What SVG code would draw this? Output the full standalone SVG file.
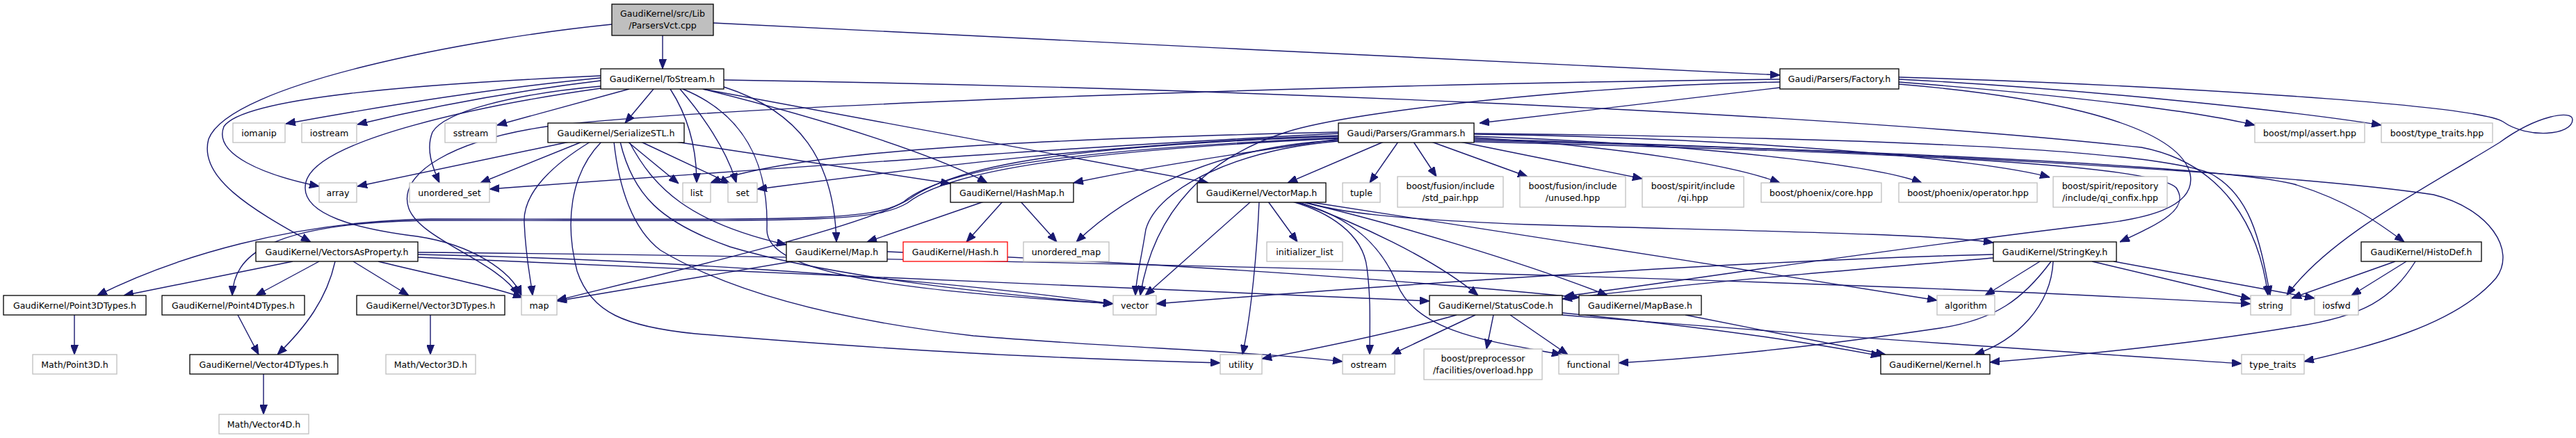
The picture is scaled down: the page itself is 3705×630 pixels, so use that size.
<svg xmlns="http://www.w3.org/2000/svg" width="3705" height="630" viewBox="0 0 3705 630">
<defs>
<style>
.n rect{fill:#fff;stroke:#000;stroke-width:1.3}
.g rect{fill:#fff;stroke:#bfbfbf;stroke-width:1.3}
.r rect{fill:#fff;stroke:#ff0000;stroke-width:1.3}
#root rect{fill:#bfbfbf;stroke:#000;stroke-width:1.3}
text{font-family:'DejaVu Sans','Liberation Sans',sans-serif;font-size:12.6px;text-anchor:middle;fill:#000}
.e path{fill:none;stroke:#191970;stroke-width:1.4;marker-end:url(#a)}
</style>
<marker id="a" markerUnits="userSpaceOnUse" markerWidth="14" markerHeight="11" refX="14" refY="5.5" orient="auto" viewBox="0 0 14 11"><path d="M0,0 L14,5.5 L0,11 z" fill="#191970" stroke="#191970" stroke-width="1"/></marker>
</defs>
<rect width="3705" height="630" fill="#fff"/>
<g id="connectors" class="e">
<path d="M953,51 L953,99"/>
<path d="M1026,33 C1500,55 2100,88 2560,108"/>
<path d="M880,35 C680,55 330,120 300,200 C285,255 360,300 447,348"/>
<path d="M864,112 C700,128 520,158 411,178"/>
<path d="M864,116 C740,131 620,153 514,179"/>
<path d="M864,109 C600,121 350,140 322,182 C306,222 380,252 459,268"/>
<path d="M905,128 L715,180"/>
<path d="M940,128 L899,177"/>
<path d="M864,124 C740,135 640,160 622,190 C612,215 622,240 632,263"/>
<path d="M964,128 C988,165 1002,210 1002,263"/>
<path d="M978,128 C1010,165 1045,215 1059,263"/>
<path d="M982,128 C1085,170 1105,255 1103,330 C1102,395 1300,418 1601,437"/>
<path d="M1011,128 L1738,263"/>
<path d="M1011,128 C1200,175 1350,225 1420,263"/>
<path d="M1041,125 C1150,160 1200,230 1203,348"/>
<path d="M864,127 C700,150 455,200 440,262 C428,310 520,330 600,340 C680,352 735,390 750,425"/>
<path d="M1041,115 C1700,125 2600,160 3080,212 C3200,235 3250,330 3262,425"/>
<path d="M2560,126 L2128,177"/>
<path d="M2731,118 C2950,135 3150,158 3243,180"/>
<path d="M2731,114 C3000,128 3300,160 3425,180"/>
<path d="M2731,111 C3100,122 3560,150 3600,175 C3635,200 3700,195 3700,172 C3700,158 3650,165 3595,205 C3490,270 3350,340 3289,425"/>
<path d="M2560,114 C2000,120 1100,148 800,180 C650,200 570,250 588,300 C605,345 715,375 746,425"/>
<path d="M2560,118 C2300,122 1950,158 1850,190 C1740,225 1660,300 1640,425"/>
<path d="M2731,121 C2900,135 3130,170 3150,250 C3160,300 3080,315 3020,322 C2700,360 2450,400 2250,426"/>
<path d="M1990,204 L1852,263"/>
<path d="M2011,204 L1970,263"/>
<path d="M2033,204 L2066,254"/>
<path d="M2059,204 L2197,254"/>
<path d="M2100,204 L2362,257"/>
<path d="M2120,198 C2350,212 2500,240 2560,263"/>
<path d="M2120,196 C2450,208 2700,238 2764,263"/>
<path d="M2120,193 C2500,198 2850,228 2948,255"/>
<path d="M1925,195 C1600,205 1300,245 1089,272"/>
<path d="M1925,190 C1500,200 1150,215 1022,263"/>
<path d="M1925,192 C1600,208 1000,250 704,272"/>
<path d="M1925,200 C1800,218 1650,240 1544,263"/>
<path d="M1925,196 C1550,210 1380,235 1310,285 C1250,325 950,395 801,432"/>
<path d="M1925,198 C1550,215 1360,240 1300,290 C1250,320 1150,315 620,315 C420,318 250,370 140,425"/>
<path d="M1925,199 C1550,217 1365,245 1305,292 C1255,322 1150,317 620,317 C380,320 336,370 334,425"/>
<path d="M1925,202 C1780,208 1640,260 1548,348"/>
<path d="M1925,203 C1780,215 1665,270 1648,330 C1640,380 1634,400 1633,425"/>
<path d="M2120,192 C2700,198 3100,215 3180,250 C3235,280 3250,340 3265,425"/>
<path d="M2120,200 C2700,215 3300,250 3500,280 C3580,300 3620,360 3590,400 C3530,470 3400,500 3314,520"/>
<path d="M2120,202 C2700,215 3200,240 3300,265 C3380,290 3420,320 3458,348"/>
<path d="M2120,204 C2800,220 3100,240 3130,270 C3150,300 3110,320 3049,348"/>
<path d="M1799,290 L1647,425"/>
<path d="M1811,290 C1808,360 1800,450 1787,510"/>
<path d="M1824,290 L1866,348"/>
<path d="M1859,290 C1910,305 1960,335 1966,385 C1972,430 1970,470 1970,510"/>
<path d="M1862,290 C1950,312 1990,360 2010,410 C2040,480 2150,492 2246,510"/>
<path d="M1866,290 C1950,320 2060,370 2126,425"/>
<path d="M1870,290 C2000,320 2200,380 2312,425"/>
<path d="M1880,290 C2100,325 2500,385 2786,432"/>
<path d="M1876,290 C1920,305 2000,315 2200,323 C2500,332 2780,336 2867,349"/>
<path d="M1415,290 L1247,348"/>
<path d="M1442,290 L1390,348"/>
<path d="M1468,290 L1520,348"/>
<path d="M819,204 L514,268"/>
<path d="M837,204 L691,263"/>
<path d="M849,204 C790,240 752,280 754,320 C756,370 763,400 766,425"/>
<path d="M865,204 C820,250 812,320 830,390 C850,450 900,470 1000,480 C1300,505 1500,515 1755,522"/>
<path d="M883,204 C890,270 910,330 950,360 C1050,420 1200,460 1400,483 C1600,500 1800,505 1931,520"/>
<path d="M892,204 C910,280 950,320 1050,355 C1200,400 1450,425 1601,437"/>
<path d="M905,204 C940,270 990,320 1131,352"/>
<path d="M903,204 L976,264"/>
<path d="M922,204 L1050,264"/>
<path d="M972,204 L1367,264"/>
<path d="M421,376 L178,425"/>
<path d="M459,376 L368,425"/>
<path d="M482,376 C470,430 440,470 399,510"/>
<path d="M508,376 L588,425"/>
<path d="M544,376 C620,395 700,410 752,428"/>
<path d="M601,366 C900,372 1300,395 1601,437"/>
<path d="M601,370 C1000,385 1600,415 2056,433"/>
<path d="M601,363 C1200,368 2500,395 3237,437"/>
<path d="M1140,376 L801,433"/>
<path d="M1276,362 C1600,375 2000,400 2272,428"/>
<path d="M107,453 L107,510"/>
<path d="M342,453 L372,510"/>
<path d="M619,453 L619,510"/>
<path d="M379,538 L379,596"/>
<path d="M2247,450 C2450,470 2600,492 2705,512"/>
<path d="M2247,453 C2600,482 3000,508 3224,523"/>
<path d="M2095,453 C2000,480 1900,500 1815,516"/>
<path d="M2122,453 L2001,510"/>
<path d="M2148,453 L2138,502"/>
<path d="M2172,453 L2255,510"/>
<path d="M2424,453 L2712,510"/>
<path d="M2934,376 L2855,425"/>
<path d="M2950,376 C2910,430 2870,460 2790,472 C2600,500 2450,515 2328,522"/>
<path d="M2953,376 C2950,440 2900,490 2840,510"/>
<path d="M2867,366 C2500,375 2000,410 1663,437"/>
<path d="M2867,371 C2700,385 2450,405 2247,430"/>
<path d="M3009,376 L3237,430"/>
<path d="M3040,376 L3329,429"/>
<path d="M3445,376 L3296,429"/>
<path d="M3461,376 L3382,425"/>
<path d="M3474,376 C3440,430 3400,455 3300,470 C3150,495 3000,510 2862,521"/>
</g>
<g id="root"><rect x="880" y="6" width="146" height="45"/><text x="953" y="23.5">GaudiKernel/src/Lib</text><text x="953" y="40.5">/ParsersVct.cpp</text></g>
<g id="n_tostream" class="n"><rect x="864" y="99" width="177" height="29"/><text x="952.5" y="117.5">GaudiKernel/ToStream.h</text></g>
<g id="n_factory" class="n"><rect x="2560" y="99" width="171" height="29"/><text x="2645.5" y="117.5">Gaudi/Parsers/Factory.h</text></g>
<g id="n_iomanip" class="g"><rect x="335" y="177" width="75" height="28"/><text x="372.5" y="195.5">iomanip</text></g>
<g id="n_iostream" class="g"><rect x="434" y="177" width="79" height="28"/><text x="473.5" y="195.5">iostream</text></g>
<g id="n_sstream" class="g"><rect x="640" y="177" width="74" height="28"/><text x="677" y="195.5">sstream</text></g>
<g id="n_serialize" class="n"><rect x="788" y="177" width="196" height="28"/><text x="886" y="195.5">GaudiKernel/SerializeSTL.h</text></g>
<g id="n_grammars" class="n"><rect x="1925" y="177" width="195" height="28"/><text x="2022.5" y="195.5">Gaudi/Parsers/Grammars.h</text></g>
<g id="n_mplassert" class="g"><rect x="3243" y="177" width="158" height="28"/><text x="3322" y="195.5">boost/mpl/assert.hpp</text></g>
<g id="n_typetraitshpp" class="g"><rect x="3425" y="177" width="160" height="28"/><text x="3505" y="195.5">boost/type_traits.hpp</text></g>
<g id="n_array" class="g"><rect x="459" y="263" width="54" height="28"/><text x="486" y="281.5">array</text></g>
<g id="n_unordered_set" class="g"><rect x="589" y="263" width="115" height="28"/><text x="646.5" y="281.5">unordered_set</text></g>
<g id="n_list" class="g"><rect x="982" y="263" width="40" height="28"/><text x="1002" y="281.5">list</text></g>
<g id="n_set" class="g"><rect x="1047" y="263" width="42" height="28"/><text x="1068" y="281.5">set</text></g>
<g id="n_hashmap" class="n"><rect x="1367" y="263" width="177" height="28"/><text x="1455.5" y="281.5">GaudiKernel/HashMap.h</text></g>
<g id="n_vectormap" class="n"><rect x="1722" y="263" width="185" height="28"/><text x="1814.5" y="281.5">GaudiKernel/VectorMap.h</text></g>
<g id="n_tuple" class="g"><rect x="1931" y="263" width="54" height="28"/><text x="1958" y="281.5">tuple</text></g>
<g id="n_stdpair" class="g"><rect x="2010" y="254" width="152" height="44"/><text x="2086" y="271.5">boost/fusion/include</text><text x="2086" y="288.5">/std_pair.hpp</text></g>
<g id="n_unused" class="g"><rect x="2186" y="254" width="152" height="44"/><text x="2262" y="271.5">boost/fusion/include</text><text x="2262" y="288.5">/unused.hpp</text></g>
<g id="n_qi" class="g"><rect x="2362" y="254" width="146" height="44"/><text x="2435" y="271.5">boost/spirit/include</text><text x="2435" y="288.5">/qi.hpp</text></g>
<g id="n_core" class="g"><rect x="2533" y="263" width="173" height="28"/><text x="2619.5" y="281.5">boost/phoenix/core.hpp</text></g>
<g id="n_operator" class="g"><rect x="2731" y="263" width="199" height="28"/><text x="2830.5" y="281.5">boost/phoenix/operator.hpp</text></g>
<g id="n_qiconfix" class="g"><rect x="2953" y="254" width="164" height="44"/><text x="3035" y="271.5">boost/spirit/repository</text><text x="3035" y="288.5">/include/qi_confix.hpp</text></g>
<g id="n_vap" class="n"><rect x="368" y="348" width="233" height="28"/><text x="484.5" y="366.5">GaudiKernel/VectorsAsProperty.h</text></g>
<g id="n_maph" class="n"><rect x="1131" y="348" width="145" height="28"/><text x="1203.5" y="366.5">GaudiKernel/Map.h</text></g>
<g id="n_hash" class="r"><rect x="1299" y="348" width="150" height="28"/><text x="1374" y="366.5">GaudiKernel/Hash.h</text></g>
<g id="n_unordered_map" class="g"><rect x="1472" y="348" width="123" height="28"/><text x="1533.5" y="366.5">unordered_map</text></g>
<g id="n_initlist" class="g"><rect x="1822" y="348" width="109" height="28"/><text x="1876.5" y="366.5">initializer_list</text></g>
<g id="n_stringkey" class="n"><rect x="2867" y="348" width="177" height="28"/><text x="2955.5" y="366.5">GaudiKernel/StringKey.h</text></g>
<g id="n_histodef" class="n"><rect x="3396" y="348" width="173" height="28"/><text x="3482.5" y="366.5">GaudiKernel/HistoDef.h</text></g>
<g id="n_point3d" class="n"><rect x="5" y="425" width="205" height="28"/><text x="107.5" y="443.5">GaudiKernel/Point3DTypes.h</text></g>
<g id="n_point4d" class="n"><rect x="233" y="425" width="205" height="28"/><text x="335.5" y="443.5">GaudiKernel/Point4DTypes.h</text></g>
<g id="n_vector3d" class="n"><rect x="513" y="425" width="213" height="28"/><text x="619.5" y="443.5">GaudiKernel/Vector3DTypes.h</text></g>
<g id="n_map" class="g"><rect x="750" y="425" width="51" height="28"/><text x="775.5" y="443.5">map</text></g>
<g id="n_vector" class="g"><rect x="1601" y="425" width="62" height="28"/><text x="1632" y="443.5">vector</text></g>
<g id="n_statuscode" class="n"><rect x="2056" y="425" width="191" height="28"/><text x="2151.5" y="443.5">GaudiKernel/StatusCode.h</text></g>
<g id="n_mapbase" class="n"><rect x="2271" y="425" width="176" height="28"/><text x="2359" y="443.5">GaudiKernel/MapBase.h</text></g>
<g id="n_algorithm" class="g"><rect x="2786" y="425" width="83" height="28"/><text x="2827.5" y="443.5">algorithm</text></g>
<g id="n_string" class="g"><rect x="3237" y="425" width="58" height="28"/><text x="3266" y="443.5">string</text></g>
<g id="n_iosfwd" class="g"><rect x="3329" y="425" width="63" height="28"/><text x="3360.5" y="443.5">iosfwd</text></g>
<g id="n_mpoint3d" class="g"><rect x="47" y="510" width="121" height="28"/><text x="107.5" y="528.5">Math/Point3D.h</text></g>
<g id="n_vector4d" class="n"><rect x="273" y="510" width="213" height="28"/><text x="379.5" y="528.5">GaudiKernel/Vector4DTypes.h</text></g>
<g id="n_mvector3d" class="g"><rect x="555" y="510" width="129" height="28"/><text x="619.5" y="528.5">Math/Vector3D.h</text></g>
<g id="n_utility" class="g"><rect x="1755" y="510" width="60" height="28"/><text x="1785" y="528.5">utility</text></g>
<g id="n_ostream" class="g"><rect x="1931" y="510" width="75" height="28"/><text x="1968.5" y="528.5">ostream</text></g>
<g id="n_preproc" class="g"><rect x="2048" y="502" width="170" height="44"/><text x="2133" y="519.5">boost/preprocessor</text><text x="2133" y="536.5">/facilities/overload.hpp</text></g>
<g id="n_functional" class="g"><rect x="2242" y="510" width="86" height="28"/><text x="2285" y="528.5">functional</text></g>
<g id="n_kernel" class="n"><rect x="2705" y="510" width="157" height="28"/><text x="2783.5" y="528.5">GaudiKernel/Kernel.h</text></g>
<g id="n_type_traits" class="g"><rect x="3224" y="510" width="90" height="28"/><text x="3269" y="528.5">type_traits</text></g>
<g id="n_mvector4d" class="g"><rect x="315" y="596" width="129" height="28"/><text x="379.5" y="614.5">Math/Vector4D.h</text></g>
</svg>
